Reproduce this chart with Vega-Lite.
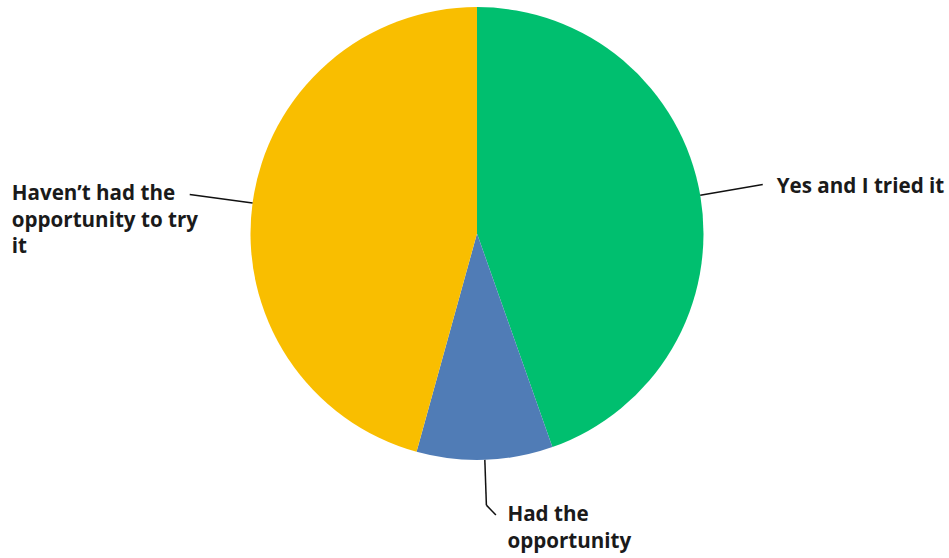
{
  "$schema": "https://vega.github.io/schema/vega-lite/v6.json",
  "width": 944,
  "height": 467,
  "autosize": {"type": "none"},
  "padding": {"left": 5, "top": 0, "right": 0, "bottom": 91},
  "background": "white",
  "config": {"view": {"stroke": null}},
  "data": {
    "values": [
      {"answer": "Yes and I tried it", "pct": 44.6},
      {"answer": "Had the opportunity", "pct": 9.7},
      {"answer": "Haven’t had the opportunity to try it", "pct": 45.7}
    ]
  },
  "transform": [
    {"window": [{"op": "row_number", "as": "k"}]},
    {"stack": "pct", "groupby": [], "sort": [{"field": "k", "order": "ascending"}], "as": ["s0", "s1"]},
    {"joinaggregate": [{"op": "sum", "field": "pct", "as": "tot"}]},
    {"calculate": "(datum.s0 + datum.s1) / datum.tot * PI", "as": "mid"},
    {"calculate": "datum.k == 2 ? 1.2 : 1.28", "as": "lr"},
    {"calculate": "sin(datum.mid)", "as": "ax"},
    {"calculate": "cos(datum.mid)", "as": "ay"},
    {"calculate": "datum.lr * sin(datum.mid)", "as": "bx"},
    {"calculate": "datum.lr * cos(datum.mid)", "as": "by"},
    {"calculate": "datum.k == 1 ? ['Yes and I tried it'] : datum.k == 2 ? ['Had the', 'opportunity'] : ['Haven’t had the', 'opportunity to try', 'it']", "as": "lbl"}
  ],
  "layer": [
    {
      "mark": {"type": "arc", "radius": 226.5, "stroke": null},
      "encoding": {
        "theta": {"field": "pct", "type": "quantitative", "stack": true},
        "order": {"field": "k", "type": "quantitative"},
        "color": {
          "field": "answer",
          "type": "nominal",
          "scale": {
            "domain": ["Yes and I tried it", "Had the opportunity", "Haven’t had the opportunity to try it"],
            "range": ["#00BF6F", "#507CB6", "#F9BE00"]
          },
          "legend": null
        }
      }
    },
    {
      "mark": {"type": "rule", "color": "#111111", "strokeWidth": 1.5},
      "encoding": {
        "x": {"field": "ax", "type": "quantitative", "scale": {"domain": [-2.0839, 2.0839], "nice": false, "zero": false}, "axis": null},
        "y": {"field": "ay", "type": "quantitative", "scale": {"domain": [-1.0309, 1.0309], "nice": false, "zero": false}, "axis": null},
        "x2": {"field": "bx"},
        "y2": {"field": "by"}
      }
    },
    {
      "transform": [
        {"filter": "datum.k == 2"},
        {"calculate": "datum.bx + 0.042", "as": "cx"},
        {"calculate": "datum.by - 0.044", "as": "cy"}
      ],
      "mark": {"type": "rule", "color": "#111111", "strokeWidth": 1.5},
      "encoding": {
        "x": {"field": "bx", "type": "quantitative"},
        "y": {"field": "by", "type": "quantitative"},
        "x2": {"field": "cx"},
        "y2": {"field": "cy"}
      }
    },
    {
      "transform": [{"filter": "datum.k == 1"}],
      "mark": {"type": "text", "align": "left", "baseline": "middle", "dx": 14, "dy": 2, "font": "Open Sans", "fontWeight": "bold", "fontSize": 20.6, "lineHeight": 26.5, "color": "#1a1a1a"},
      "encoding": {
        "x": {"field": "bx", "type": "quantitative"},
        "y": {"field": "by", "type": "quantitative"},
        "text": {"field": "lbl"}
      }
    },
    {
      "transform": [{"filter": "datum.k == 2"}],
      "mark": {"type": "text", "align": "left", "baseline": "top", "dx": 21, "dy": 0, "font": "Open Sans", "fontWeight": "bold", "fontSize": 20.6, "lineHeight": 26.5, "color": "#1a1a1a"},
      "encoding": {
        "x": {"field": "bx", "type": "quantitative"},
        "y": {"field": "by", "type": "quantitative"},
        "text": {"field": "lbl"}
      }
    },
    {
      "transform": [{"filter": "datum.k == 3"}],
      "mark": {"type": "text", "align": "left", "baseline": "top", "dx": -178, "dy": -10, "font": "Open Sans", "fontWeight": "bold", "fontSize": 20.6, "lineHeight": 26.5, "color": "#1a1a1a"},
      "encoding": {
        "x": {"field": "bx", "type": "quantitative"},
        "y": {"field": "by", "type": "quantitative"},
        "text": {"field": "lbl"}
      }
    }
  ]
}
